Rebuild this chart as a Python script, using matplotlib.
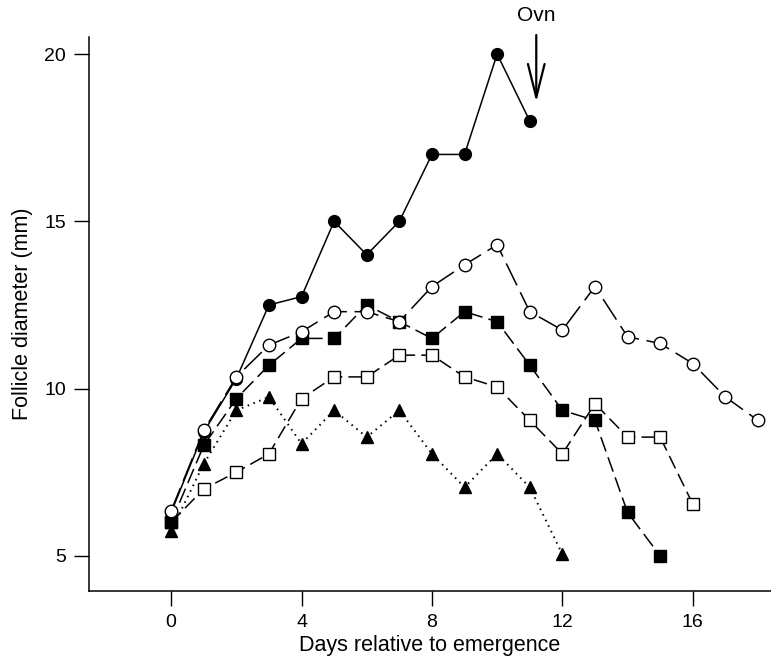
import numpy as np
import matplotlib.pyplot as plt

# follicle diameters (mm) by day relative to emergence
days_cc = np.arange(0, 12)
closed_circle = [6.3, 8.7, 10.3, 12.5, 12.75, 15.0, 14.0, 15.0, 17.0, 17.0, 20.0, 18.0]

days_oc = np.arange(0, 19)
open_circle = [6.35, 8.75, 10.35, 11.3, 11.7, 12.3, 12.3, 12.0, 13.05, 13.7, 14.3,
               12.3, 11.75, 13.05, 11.55, 11.35, 10.75, 9.75, 9.05]

days_cs = np.arange(0, 16)
closed_square = [6.0, 8.3, 9.7, 10.7, 11.5, 11.5, 12.5, 12.0, 11.5, 12.3, 12.0,
                 10.7, 9.35, 9.05, 6.3, 5.0]

days_os = np.arange(0, 17)
open_square = [6.0, 7.0, 7.5, 8.05, 9.7, 10.35, 10.35, 11.0, 11.0, 10.35, 10.05,
               9.05, 8.05, 9.55, 8.55, 8.55, 6.55]

days_tri = np.arange(0, 13)
closed_triangle = [5.75, 7.75, 9.35, 9.75, 8.35, 9.35, 8.55, 9.35, 8.05, 7.05, 8.05,
                   7.05, 5.05]

ovulation_day = 11.2

plt.rcParams['font.family'] = ['Liberation Sans', 'DejaVu Sans']

fig = plt.figure(figsize=(7.71, 6.61), dpi=100)
ax = fig.add_axes([0.1154, 0.1059, 0.8846, 0.8381])

lw = 1.1
ax.plot(days_tri, closed_triangle, color='k', lw=1.4, linestyle=(0, (0.8, 2.4)),
        marker='^', ms=8.5, mfc='k', mec='k', zorder=2)
ax.plot(days_os, open_square, color='k', lw=lw, linestyle=(0, (9, 4)),
        marker='s', ms=8, mfc='white', mec='k', mew=1.0, zorder=3)
ax.plot(days_cs, closed_square, color='k', lw=lw, linestyle=(0, (10, 4)),
        marker='s', ms=8, mfc='k', mec='k', zorder=3)
ax.plot(days_cc, closed_circle, color='k', lw=lw, linestyle='-',
        marker='o', ms=8.5, mfc='k', mec='k', zorder=4)
ax.plot(days_oc, open_circle, color='k', lw=lw, linestyle=(0, (16, 5)),
        marker='o', ms=9, mfc='white', mec='k', mew=1.0, zorder=5)

# ovulation arrow
ax.annotate('', xy=(ovulation_day, 18.57), xytext=(ovulation_day, 20.57),
            arrowprops=dict(arrowstyle='->,head_length=2.4,head_width=0.6',
                            color='k', lw=1.6, shrinkA=0, shrinkB=0),
            annotation_clip=False)
ax.text(ovulation_day, 20.88, 'Ovn', ha='center', va='bottom', fontsize=15,
        clip_on=False)

ax.set_xlim(-2.52, 18.4)
ax.set_ylim(3.95, 20.51)
ax.set_xticks([0, 4, 8, 12, 16])
ax.set_yticks([5, 10, 15, 20])

for s in ['top', 'right']:
    ax.spines[s].set_visible(False)
for s in ['left', 'bottom']:
    ax.spines[s].set_linewidth(1.1)
ax.tick_params(direction='out', length=10.5, width=1.0, labelsize=14, pad=6)

ax.set_xlabel('Days relative to emergence', fontsize=15.5, labelpad=3)
ax.set_ylabel('Follicle diameter (mm)', fontsize=15.5, labelpad=8)

fig.savefig('out.png', dpi=100)
